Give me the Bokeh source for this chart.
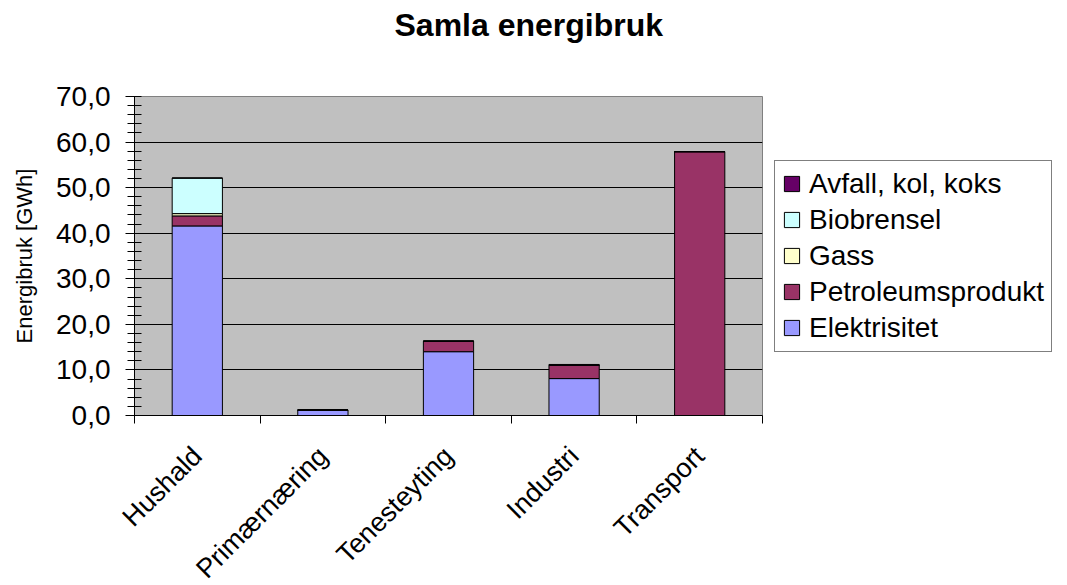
import math
from bokeh.plotting import figure
from bokeh.models import (Range1d, FixedTicker, Legend, LegendItem, ColumnDataSource, Title)
from bokeh.embed import file_html
from bokeh.resources import INLINE

categories = ["Hushald", "Primærnæring", "Tenesteyting", "Industri", "Transport"]
series = ["Elektrisitet", "Petroleumsprodukt", "Gass", "Biobrensel", "Avfall, kol, koks"]
elektrisitet = [41.6, 1.2, 14.0, 8.1, 0.0]
petroleum = [2.2, 0.0, 2.3, 2.9, 57.9]
gass = [0.5, 0.0, 0.0, 0.0, 0.0]
biobrensel = [7.8, 0.0, 0.0, 0.0, 0.0]
avfall = [0.0, 0.0, 0.0, 0.2, 0.0]
colors = ["#9999FF", "#993366", "#FFFFCC", "#CCFFFF", "#660066"]
y_ticks = [0, 10, 20, 30, 40, 50, 60, 70]
y_minor = list(range(0, 71, 2))
title_text = "Samla energibruk"
y_label = "Energibruk [GWh]"

FONT = "Liberation Sans"

xs = [i + 0.5 for i in range(len(categories))]
src = ColumnDataSource(dict(x=xs, **{
    series[0]: elektrisitet, series[1]: petroleum, series[2]: gass,
    series[3]: biobrensel, series[4]: avfall}))

p = figure(frame_width=628, frame_height=319, output_backend="svg", toolbar_location=None,
           x_range=Range1d(0, len(categories)), y_range=Range1d(0, 70),
           min_border_left=134, min_border_right=289, min_border_top=96, min_border_bottom=154)
p.background_fill_color = "#C0C0C0"
p.border_fill_color = "white"
p.outline_line_color = "#808080"

rs = p.vbar_stack(series, x="x", width=0.4, source=src, fill_color=colors,
                  line_color="black", line_width=1)

# title
p.title.text = title_text
p.title.text_font = FONT
p.title.text_font_size = "32px"
p.title.text_font_style = "bold"
p.title.text_color = "black"
p.title.align = "left"
p.title.offset = 260
p.title.vertical_align = "top"
p.title.standoff = 8
# blank spacer between the plot area and the title
p.add_layout(Title(text=" ", text_font_size="10px", standoff=35), "above")

# y axis
ya = p.yaxis[0]
ya.ticker = FixedTicker(ticks=y_ticks, minor_ticks=y_minor)
ya.major_label_overrides = {t: f"{t:.1f}".replace(".", ",") for t in y_ticks}
ya.axis_label = y_label
ya.axis_label_text_font = FONT
ya.axis_label_text_font_size = "22px"
ya.axis_label_text_font_style = "normal"
ya.axis_label_text_color = "black"
ya.axis_label_standoff = 16
ya.major_label_text_font = FONT
ya.major_label_text_font_size = "28px"
ya.major_label_text_color = "black"
ya.major_tick_out = 9
ya.major_tick_in = 0
ya.minor_tick_out = 7
ya.minor_tick_in = 7
ya.major_label_standoff = 15
ya.axis_line_color = "black"
ya.major_tick_line_color = "black"
ya.minor_tick_line_color = "black"

# x axis
xa = p.xaxis[0]
xa.ticker = FixedTicker(ticks=xs, minor_ticks=list(range(len(categories) + 1)))
xa.major_label_overrides = {x: c for x, c in zip(xs, categories)}
xa.major_label_orientation = math.pi / 4
xa.major_label_text_font = FONT
xa.major_label_text_font_size = "27px"
xa.major_label_text_color = "black"
xa.major_tick_out = 0
xa.major_tick_in = 0
xa.minor_tick_out = 8
xa.minor_tick_in = 0
xa.major_label_standoff = 28
xa.axis_line_color = "black"
xa.minor_tick_line_color = "black"

p.xgrid.visible = False
p.ygrid.grid_line_color = "black"
p.ygrid.grid_line_alpha = 1.0

items = [LegendItem(label=s, renderers=[r]) for s, r in zip(series, rs)][::-1]
legend = Legend(items=items, location="center_left", margin=12, padding=7,
                spacing=4, glyph_width=19, glyph_height=19, label_standoff=8,
                label_height=30, label_text_font=FONT, label_text_font_size="28px",
                label_text_color="black", border_line_color="black",
                border_line_width=1, background_fill_color="white",
                background_fill_alpha=1.0)
p.add_layout(legend, "right")

open("out.html", "w").write(file_html(p, INLINE))
